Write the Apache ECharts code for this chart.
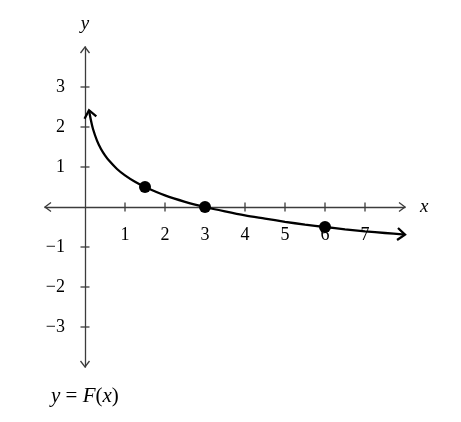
<!DOCTYPE html>
<html>
<head>
<meta charset="utf-8">
<script src="https://cdn.jsdelivr.net/npm/echarts@6/dist/echarts.min.js"></script>
<style>
  html, body { margin: 0; padding: 0; background: #fff; }
  #chart { width: 461px; height: 422px; }
</style>
</head>
<body>
<div id="chart"></div>
<script>
// Curve y = F(x)
var curveX = [0.1, 0.15, 0.2, 0.3, 0.4, 0.5, 0.6, 0.8, 1, 1.25, 1.5, 2, 2.5, 3, 3.5, 4, 4.5, 5, 5.5, 6, 6.5, 7, 7.5, 8];
var curveY = [2.42, 2.16, 1.95, 1.66, 1.45, 1.29, 1.16, 0.95, 0.79, 0.63, 0.5, 0.29, 0.13, 0, -0.11, -0.21, -0.29, -0.37, -0.44, -0.5, -0.56, -0.61, -0.65, -0.69];

// Marked points
var pointX = [1.5, 3, 6];
var pointY = [0.5, 0, -0.5];

// Axis ranges and ticks
var xRange = [-1, 8];
var yRange = [-4, 4];
var xTicks = [1, 2, 3, 4, 5, 6, 7];
var yTicks = [-3, -2, -1, 1, 2, 3];

var serif = '"Liberation Serif", "DejaVu Serif", serif';
var axisColor = '#3c3c3c';

var gridLeft = 45, gridTop = 47, gridW = 360, gridH = 320;

var chartEl = document.getElementById('chart');

if (chartEl) {

    var chart = echarts.init(chartEl);

    var curveData = curveX.map(function (x, i) { return [x, curveY[i]]; });
    var pointData = pointX.map(function (x, i) { return [x, pointY[i]]; });

    // put the axes through the origin (labels follow the offset)
    var xOffset = -gridH * (0 - yRange[0]) / (yRange[1] - yRange[0]);
    var yOffset = -gridW * (0 - xRange[0]) / (xRange[1] - xRange[0]);

    // open arrow head at "tip", pointing away from "from"
    var chevron = function (tip, from, len, half, style) {
        var dx = tip[0] - from[0], dy = tip[1] - from[1];
        var d = Math.sqrt(dx * dx + dy * dy) || 1;
        dx /= d; dy /= d;
        var px = -dy, py = dx;
        return {
            type: 'polyline',
            shape: { points: [
                [tip[0] - dx * len + px * half, tip[1] - dy * len + py * half],
                tip,
                [tip[0] - dx * len - px * half, tip[1] - dy * len - py * half]
            ] },
            style: style
        };
    };

    var label = function (v) {
        return v < 0 ? '\u2212' + (-v) : String(v);
    };

    chart.setOption({
        animation: false,
        grid: { left: gridLeft, top: gridTop, width: gridW, height: gridH, containLabel: false },

        xAxis: {
            type: 'value',
            min: xRange[0],
            max: xRange[1],
            interval: 1,
            position: 'bottom',
            offset: xOffset,
            name: 'x',
            nameLocation: 'end',
            nameGap: 15,
            nameTextStyle: { fontFamily: serif, fontStyle: 'italic', fontSize: 19, color: '#000' },
            axisLine: { onZero: false, lineStyle: { color: axisColor, width: 1.3 } },
            axisTick: { show: false },
            splitLine: { show: false },
            axisLabel: {
                margin: 19,
                fontFamily: serif,
                fontSize: 18,
                color: '#000',
                formatter: function (v) { return xTicks.indexOf(v) >= 0 ? label(v) : ''; }
            }
        },

        yAxis: {
            type: 'value',
            min: yRange[0],
            max: yRange[1],
            interval: 1,
            position: 'left',
            offset: yOffset,
            name: 'y',
            nameLocation: 'end',
            nameGap: 14,
            nameTextStyle: { fontFamily: serif, fontStyle: 'italic', fontSize: 19, color: '#000', align: 'center' },
            axisLine: { onZero: false, lineStyle: { color: axisColor, width: 1.3 } },
            axisTick: { show: false },
            splitLine: { show: false },
            axisLabel: {
                margin: 20,
                fontFamily: serif,
                fontSize: 18,
                color: '#000',
                formatter: function (v) { return yTicks.indexOf(v) >= 0 ? label(v) : ''; }
            }
        },

        title: {
            text: '{i|y} = {i|F}({i|x})',
            left: 46,
            top: 381,
            textStyle: {
                fontFamily: serif,
                fontSize: 21,
                fontWeight: 'normal',
                color: '#000',
                rich: { i: { fontFamily: serif, fontSize: 21, fontStyle: 'italic', color: '#000' } }
            }
        },

        series: [
            {
                // crossing ticks and axis arrow heads
                type: 'custom',
                silent: true,
                data: [0],
                renderItem: function (params, api) {
                    var axisStyle = { stroke: axisColor, lineWidth: 1.3, fill: null };
                    var kids = [];
                    xTicks.forEach(function (t) {
                        var p = api.coord([t, 0]);
                        kids.push({ type: 'line', shape: { x1: p[0], y1: p[1] - 4.5, x2: p[0], y2: p[1] + 4.5 }, style: axisStyle });
                    });
                    yTicks.forEach(function (t) {
                        var p = api.coord([0, t]);
                        kids.push({ type: 'line', shape: { x1: p[0] - 4.5, y1: p[1], x2: p[0] + 4.5, y2: p[1] }, style: axisStyle });
                    });
                    var o = api.coord([0, 0]);
                    kids.push(chevron(api.coord([xRange[1], 0]), o, 6, 4.5, axisStyle));
                    kids.push(chevron(api.coord([xRange[0], 0]), o, 6, 4.5, axisStyle));
                    kids.push(chevron(api.coord([0, yRange[1]]), o, 6, 4.5, axisStyle));
                    kids.push(chevron(api.coord([0, yRange[0]]), o, 6, 4.5, axisStyle));

                    // arrow heads on both ends of the curve
                    var curveStyle = { stroke: '#000', lineWidth: 2.3, fill: null };
                    var n = curveData.length;
                    kids.push(chevron(api.coord(curveData[0]), api.coord(curveData[1]), 7.5, 6, curveStyle));
                    kids.push(chevron(api.coord(curveData[n - 1]), api.coord(curveData[n - 2]), 7.5, 6, curveStyle));
                    return { type: 'group', children: kids };
                },
                z: 3
            },
            {
                name: 'F',
                type: 'line',
                data: curveData,
                smooth: 0.3,
                showSymbol: false,
                lineStyle: { color: '#000', width: 2.3 },
                z: 4
            },
            {
                type: 'scatter',
                data: pointData,
                symbolSize: 12,
                itemStyle: { color: '#000', opacity: 1 },
                z: 5
            }
        ]
    });
}
</script>
</body>
</html>
